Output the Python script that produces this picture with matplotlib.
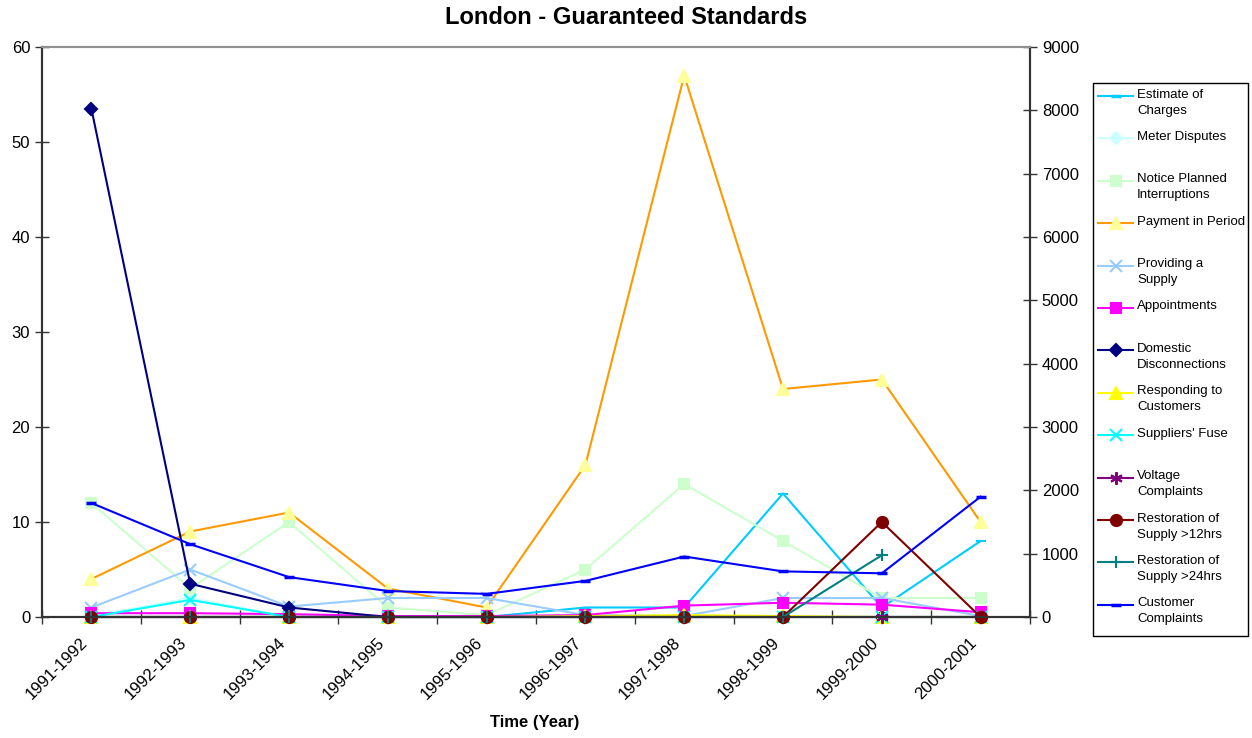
import numpy as np
import matplotlib
matplotlib.use("Agg")
import matplotlib.pyplot as plt
import matplotlib.transforms as mtransforms
from matplotlib.lines import Line2D
from matplotlib.patches import Rectangle

plt.rcParams['font.family'] = ['Liberation Sans', 'DejaVu Sans']

years = ["1991-1992", "1992-1993", "1993-1994", "1994-1995", "1995-1996",
         "1996-1997", "1997-1998", "1998-1999", "1999-2000", "2000-2001"]

estimate_of_charges = [0, 0, 0, 0, 0, 1, 1, 13, 1, 8]
meter_disputes = [0.1, 2, 0, 0, 0, 0, 0, 0, 0, 0]
notice_planned = [12, 3, 10, 1, 0.2, 5, 14, 8, 2, 2]
payment_in_period = [4, 9, 11, 3, 1, 16, 57, 24, 25, 10]
providing_supply = [1, 5, 1.1, 2, 2, 0.2, 0.1, 2, 2, 0.1]
appointments = [0.4, 0.4, 0.3, 0.1, 0.1, 0.2, 1.2, 1.5, 1.3, 0.5]
domestic_disconnections = [53.5, 3.5, 1, 0, 0, 0, 0, 0, 0, 0]
responding_customers = [0, 0, 0, 0, 0, 0.1, 0.2, 0.1, 0, 0]
suppliers_fuse = [0, 1.8, 0, 0, 0, 0, 0, 0, 0, 0]
voltage_complaints = [0, 0, 0, 0, 0, 0, 0, 0, 0, 0]
restoration_12 = [0, 0, 0, 0, 0, 0, 0, 0, 10, 0]
restoration_24 = [0, 0, 0, 0, 0, 0, 0, 0, 6.5, np.nan]
customer_complaints = [1800, 1150, 630, 410, 365, 570, 955, 720, 690, 1900]

# (label, data, line color, marker, marker face, marker edge, marker size)
series = [
    ("Estimate of\nCharges", estimate_of_charges, "#00CCFF", "_", "#00CCFF", "#00CCFF", 7),
    ("Meter Disputes", meter_disputes, "#CCFFFF", "D", "#CCFFFF", "#CCFFFF", 6),
    ("Notice Planned\nInterruptions", notice_planned, "#CCFFCC", "s", "#CCFFCC", "#CCFFCC", 7),
    ("Payment in Period", payment_in_period, "#FF9900", "^", "#FFFF99", "#FFFF99", 8),
    ("Providing a\nSupply", providing_supply, "#99CCFF", "x", "#99CCFF", "#99CCFF", 8),
    ("Appointments", appointments, "#FF00FF", "s", "#FF00FF", "#FF00FF", 7),
    ("Domestic\nDisconnections", domestic_disconnections, "#000080", "D", "#000080", "#000080", 6),
    ("Responding to\nCustomers", responding_customers, "#FFFF00", "^", "#FFFF00", "#FFFF00", 8),
    ("Suppliers' Fuse", suppliers_fuse, "#00FFFF", "x", "#00FFFF", "#00FFFF", 8),
    ("Voltage\nComplaints", voltage_complaints, "#800080", (6, 2, 0), "#800080", "#800080", 9),
    ("Restoration of\nSupply >12hrs", restoration_12, "#800000", "o", "#800000", "#800000", 8),
    ("Restoration of\nSupply >24hrs", restoration_24, "#008080", "+", "#008080", "#008080", 9),
]
cc_style = ("Customer\nComplaints", customer_complaints, "#0000FF", "_", "#0000FF", "#0000FF", 7)

W, H = 1252, 738
fig = plt.figure(figsize=(W / 100, H / 100), dpi=100)
L, R, T, B = 42, 1030, 47, 617
ax = fig.add_axes([L / W, 1 - B / H, (R - L) / W, (B - T) / H])
ax2 = ax.twinx()

x = np.arange(len(years)) + 0.5
for lab, d, c, m, mf, me, ms in series:
    ax.plot(x, d, color=c, lw=1.5, marker=m, mfc=mf, mec=me, ms=ms, mew=1.5, clip_on=False)
lab, d, c, m, mf, me, ms = cc_style
ax2.plot(x, d, color=c, lw=1.5, marker=m, mfc=mf, mec=me, ms=ms, mew=2.5, clip_on=False)

ax.set_xlim(0, len(years))
ax.set_ylim(0, 60)
ax2.set_ylim(0, 9000)
ax.set_yticks(np.arange(0, 61, 10))
ax2.set_yticks(np.arange(0, 9001, 1000))
ax.set_xticks(np.arange(0, len(years) + 1))
ax.set_xticklabels([])
ax.tick_params(axis='x', which='major', direction='inout', length=10, width=1, color='#333333')
ax.tick_params(axis='y', direction='inout', length=10, width=1, color='#333333', labelsize=12)
ax2.tick_params(axis='y', direction='inout', length=10, width=1, color='#333333', labelsize=12)

# category labels (rotated) placed under each category centre
offset = mtransforms.ScaledTranslation(-6 / 100, -23 / 100, fig.dpi_scale_trans)
for xi, yr in zip(x, years):
    ax.text(xi, 0, yr, transform=ax.get_xaxis_transform() + offset, rotation=45,
            ha='right', va='center', rotation_mode='anchor', fontsize=12)

for a in (ax, ax2):
    for s in ('left', 'right', 'bottom'):
        a.spines[s].set_color('#333333')
        a.spines[s].set_linewidth(1.5)
    a.spines['top'].set_color('#909090')
    a.spines['top'].set_linewidth(1.5)

fig.text(W / 2 / W, 1 - 18 / H, "London - Guaranteed Standards", ha='center', va='center',
         fontsize=17, fontweight='bold')
fig.text(535 / W, 1 - 723 / H, "Time (Year)", ha='center', va='center', fontsize=12, fontweight='bold')

# legend drawn manually
lx0, ly0, lx1, ly1 = 1093, 83, 1248, 636
fig.patches.append(Rectangle((lx0 / W, 1 - ly1 / H), (lx1 - lx0) / W, (ly1 - ly0) / H,
                             transform=fig.transFigure, fill=False, ec='black', lw=1))
all_series = series + [cc_style]
for i, (lab, d, c, m, mf, me, ms) in enumerate(all_series):
    yy = 96 + i * 42.4
    fig.lines.append(Line2D([1098 / W, 1133 / W], [1 - yy / H, 1 - yy / H], transform=fig.transFigure,
                            color=c, lw=1.5))
    fig.lines.append(Line2D([1115.5 / W], [1 - yy / H], transform=fig.transFigure, color=c,
                            marker=m, mfc=mf, mec=me, ms=ms, mew=2.5 if m == "_" else 1.5))
    fig.text(1137 / W, 1 - (yy - 7.5) / H, lab, ha='left', va='top', fontsize=9.5, linespacing=1.45)

fig.savefig("out.png", dpi=100)
